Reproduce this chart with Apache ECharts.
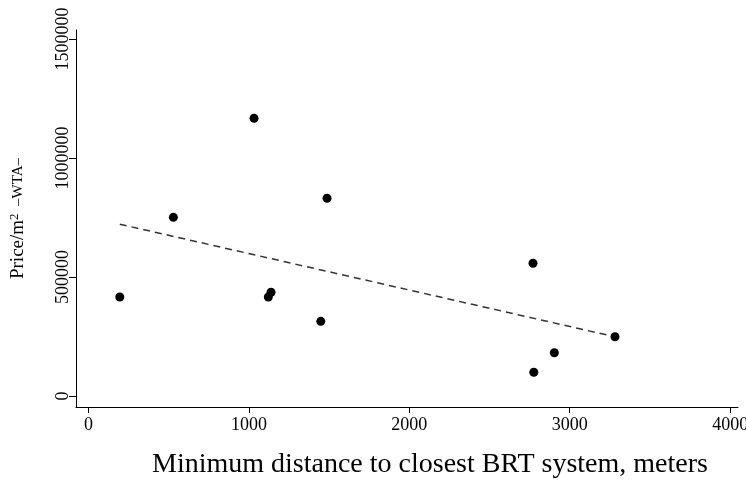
<!DOCTYPE html>
<html>
<head>
<meta charset="utf-8">
<script src="https://cdn.jsdelivr.net/npm/echarts@6/dist/echarts.min.js"></script>
<style>
  html, body { margin: 0; padding: 0; background: #fff; }
  #chart { width: 746px; height: 480px; }
</style>
</head>
<body>
<div id="chart"></div>
<script>
// 数据
const distance = [195, 529, 1032, 1121, 1138, 1448, 1487, 2771, 2776, 2904, 3282]
const price = [416000, 751000, 1167000, 416000, 436000, 314000, 831000, 558000, 100000, 182000, 249000]
const fitX = [195, 3282]
const fitY = [722000, 249000]
const xTicks = [0, 1000, 2000, 3000, 4000]
const yTicks = [0, 500000, 1000000, 1500000]

const font = 'Liberation Serif, Times New Roman, serif'

const chart = echarts.init(document.getElementById('chart'))

const option = {
  backgroundColor: '#fff',
  animation: false,
  grid: { left: 76, right: 8, top: 30, bottom: 73, containLabel: false, outerBoundsMode: 'none' },
  xAxis: {
    type: 'value',
    min: -78,
    max: 4049,
    name: 'Minimum distance to closest BRT system, meters',
    nameLocation: 'middle',
    nameGap: 44,
    nameTextStyle: { fontFamily: font, fontSize: 28, color: '#000', padding: [0, 0, 0, 46] },
    axisLine: { onZero: false, lineStyle: { color: '#000', width: 1 } },
    axisTick: { customValues: xTicks, length: 6, lineStyle: { color: '#000' } },
    axisLabel: { customValues: xTicks, formatter: v => String(v), fontFamily: font, fontSize: 18, color: '#000', margin: 9 },
    splitLine: { show: false }
  },
  yAxis: {
    type: 'value',
    min: -46000,
    max: 1538000,
    name: '{a|Price/m}{s|2}{w|  –WTA–}',
    nameLocation: 'middle',
    nameRotate: 90,
    nameGap: 47,
    nameTextStyle: {
      fontFamily: font,
      color: '#000',
      rich: {
        a: { fontFamily: font, fontSize: 19, color: '#000' },
        s: { fontFamily: font, fontSize: 13, color: '#000', verticalAlign: 'top', padding: [0, 0, 8, 0] },
        w: { fontFamily: font, fontSize: 15, color: '#000' }
      }
    },
    axisLine: { show: true, onZero: false, lineStyle: { color: '#000', width: 1 } },
    axisTick: { show: true, customValues: yTicks, length: 7, lineStyle: { color: '#000' } },
    axisLabel: { customValues: yTicks, formatter: v => String(v), rotate: 90, fontFamily: font, fontSize: 18, color: '#000', margin: 4 },
    splitLine: { show: false }
  },
  series: [
    {
      name: 'fit',
      type: 'line',
      data: fitX.map((x, i) => [x, fitY[i]]),
      symbol: 'none',
      lineStyle: { color: '#333', width: 1.5, type: [7, 5] },
      z: 1
    },
    {
      name: 'obs',
      type: 'scatter',
      data: distance.map((x, i) => [x, price[i]]),
      symbolSize: 9,
      itemStyle: { color: '#000', opacity: 1 },
      z: 2
    }
  ]
}

chart.setOption(option)
</script>
</body>
</html>
